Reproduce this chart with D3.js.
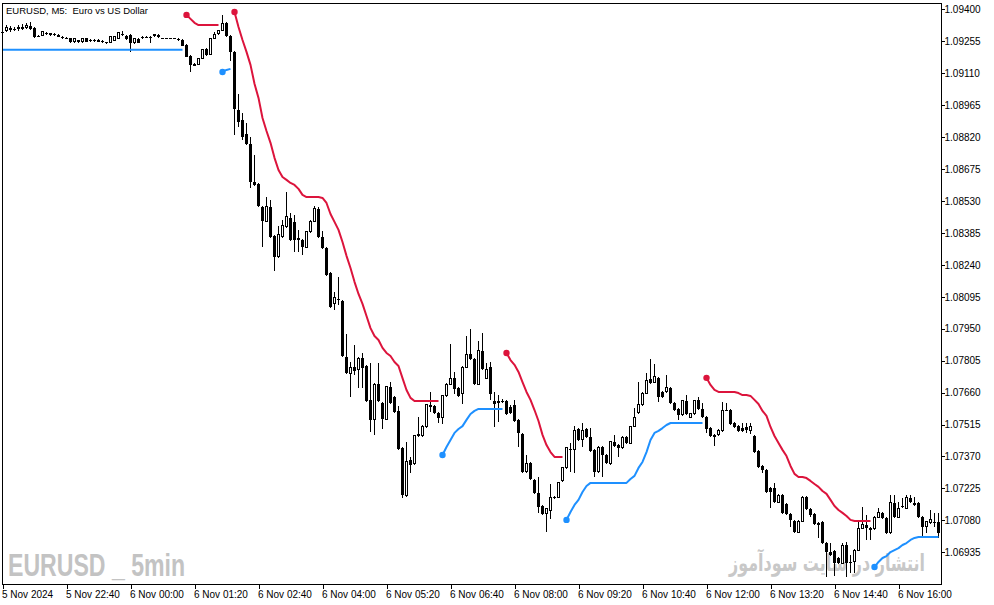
<!DOCTYPE html>
<html>
<head>
<meta charset="utf-8">
<script src="https://d3js.org/d3.v7.min.js"></script>
<style>
body{margin:0;background:#fff;}
svg text{font-family:"Liberation Sans",Arial,sans-serif;}
</style>
</head>
<body>
<script>
// EURUSD M5, 5 Nov 2024 21:20 -> 6 Nov 2024 16:50 (235 bars)
var openP=[
1.09298,1.09302,1.09316,1.09311,1.09311,1.09316,1.09316,1.09325,1.09316,1.09280,
1.09280,1.09293,1.09293,1.09289,1.09284,1.09275,1.09270,1.09270,1.09252,1.09261,
1.09252,1.09270,1.09261,1.09261,1.09261,1.09257,1.09252,1.09248,1.09261,1.09270,
1.09289,1.09280,1.09284,1.09248,1.09266,1.09275,1.09275,1.09275,1.09280,1.09284,
1.09270,1.09268,1.09268,1.09268,1.09266,1.09261,1.09239,1.09189,1.09148,1.09152,
1.09175,1.09220,1.09193,1.09266,1.09289,1.09302,1.09338,1.09280,1.09207,1.08944,
1.08898,1.08835,1.08789,1.08617,1.08608,1.08503,1.08439,1.08503,1.08371,1.08276,
1.08367,1.08412,1.08453,1.08435,1.08353,1.08353,1.08321,1.08390,1.08435,1.08494,
1.08367,1.08317,1.08203,1.08063,1.08085,1.08076,1.07822,1.07749,1.07776,1.07767,
1.07817,1.07781,1.07627,1.07536,1.07699,1.07613,1.07540,1.07686,1.07640,1.07577,
1.07409,1.07191,1.07354,1.07336,1.07463,1.07463,1.07504,1.07599,1.07599,1.07568,
1.07545,1.07645,1.07699,1.07726,1.07681,1.07654,1.07776,1.07835,1.07813,1.07699,
1.07849,1.07726,1.07776,1.07622,1.07622,1.07622,1.07622,1.07595,1.07604,1.07536,
1.07472,1.07300,1.07340,1.07263,1.07204,1.07145,1.07109,1.07123,1.07186,1.07186,
1.07259,1.07318,1.07404,1.07400,1.07495,1.07445,1.07495,1.07459,1.07400,1.07300,
1.07413,1.07377,1.07336,1.07436,1.07422,1.07409,1.07458,1.07431,1.07508,1.07568,
1.07604,1.07658,1.07722,1.07708,1.07726,1.07663,1.07663,1.07681,1.07613,1.07586,
1.07559,1.07622,1.07549,1.07563,1.07627,1.07586,1.07549,1.07499,1.07468,1.07468,
1.07486,1.07581,1.07581,1.07522,1.07508,1.07499,1.07504,1.07486,1.07463,1.07395,
1.07327,1.07309,1.07227,1.07227,1.07163,1.07195,1.07154,1.07109,1.07077,1.07027,
1.07077,1.07186,1.07132,1.07109,1.07068,1.07073,1.06977,1.06936,1.06941,1.06909,
1.06886,1.06968,1.06891,1.06891,1.06945,1.07045,1.07059,1.07045,1.07041,1.07095,
1.07114,1.07091,1.07023,1.07159,1.07095,1.07145,1.07136,1.07182,1.07159,1.07159,
1.07095,1.07050,1.07068,1.07073,1.07073];
var highP=[
1.09320,1.09329,1.09325,1.09320,1.09329,1.09334,1.09338,1.09343,1.09320,1.09284,
1.09302,1.09298,1.09295,1.09291,1.09286,1.09280,1.09275,1.09272,1.09266,1.09263,
1.09270,1.09272,1.09266,1.09266,1.09266,1.09261,1.09254,1.09275,1.09280,1.09298,
1.09302,1.09284,1.09289,1.09270,1.09270,1.09280,1.09280,1.09277,1.09286,1.09286,
1.09272,1.09272,1.09272,1.09272,1.09270,1.09266,1.09243,1.09193,1.09157,1.09180,
1.09222,1.09225,1.09268,1.09298,1.09307,1.09375,1.09343,1.09284,1.09211,1.09016,
1.08930,1.08884,1.08821,1.08739,1.08612,1.08508,1.08548,1.08535,1.08376,1.08417,
1.08444,1.08571,1.08476,1.08467,1.08399,1.08358,1.08394,1.08444,1.08508,1.08503,
1.08394,1.08321,1.08208,1.08117,1.08185,1.08081,1.07926,1.07799,1.07876,1.07822,
1.07840,1.07785,1.07794,1.07704,1.07794,1.07617,1.07690,1.07708,1.07645,1.07599,
1.07413,1.07436,1.07368,1.07468,1.07549,1.07513,1.07608,1.07663,1.07604,1.07572,
1.07649,1.07704,1.07881,1.07754,1.07686,1.07781,1.07917,1.07949,1.07817,1.07894,
1.07931,1.07794,1.07799,1.07663,1.07649,1.07631,1.07627,1.07604,1.07627,1.07540,
1.07477,1.07377,1.07345,1.07268,1.07277,1.07150,1.07136,1.07245,1.07191,1.07254,
1.07322,1.07413,1.07431,1.07508,1.07499,1.07522,1.07499,1.07499,1.07404,1.07418,
1.07418,1.07381,1.07440,1.07468,1.07427,1.07463,1.07463,1.07508,1.07590,1.07708,
1.07663,1.07749,1.07813,1.07790,1.07731,1.07667,1.07740,1.07686,1.07617,1.07590,
1.07627,1.07649,1.07568,1.07627,1.07640,1.07613,1.07554,1.07504,1.07472,1.07495,
1.07617,1.07613,1.07586,1.07527,1.07513,1.07522,1.07522,1.07522,1.07468,1.07400,
1.07331,1.07313,1.07232,1.07250,1.07200,1.07200,1.07159,1.07114,1.07082,1.07082,
1.07191,1.07191,1.07136,1.07114,1.07073,1.07077,1.06982,1.06977,1.06945,1.06914,
1.06977,1.06982,1.06923,1.06950,1.07082,1.07141,1.07104,1.07050,1.07100,1.07136,
1.07118,1.07095,1.07195,1.07195,1.07163,1.07182,1.07195,1.07195,1.07186,1.07163,
1.07100,1.07077,1.07127,1.07114,1.07114];
var lowP=[
1.09289,1.09298,1.09298,1.09302,1.09302,1.09307,1.09311,1.09307,1.09270,1.09275,
1.09277,1.09284,1.09280,1.09280,1.09273,1.09266,1.09266,1.09248,1.09248,1.09248,
1.09248,1.09250,1.09252,1.09252,1.09250,1.09248,1.09243,1.09246,1.09259,1.09268,
1.09280,1.09261,1.09207,1.09243,1.09246,1.09266,1.09270,1.09248,1.09275,1.09270,
1.09266,1.09266,1.09266,1.09264,1.09257,1.09232,1.09182,1.09116,1.09143,1.09150,
1.09173,1.09189,1.09191,1.09264,1.09284,1.09300,1.09275,1.09166,1.08830,1.08866,
1.08807,1.08785,1.08589,1.08598,1.08503,1.08321,1.08435,1.08362,1.08212,1.08272,
1.08362,1.08408,1.08349,1.08299,1.08299,1.08285,1.08317,1.08385,1.08433,1.08362,
1.08312,1.08190,1.08044,1.08035,1.08058,1.07822,1.07745,1.07640,1.07740,1.07681,
1.07681,1.07617,1.07481,1.07468,1.07617,1.07495,1.07536,1.07608,1.07568,1.07400,
1.07182,1.07186,1.07295,1.07331,1.07459,1.07459,1.07499,1.07572,1.07563,1.07522,
1.07518,1.07640,1.07695,1.07654,1.07640,1.07608,1.07772,1.07808,1.07695,1.07695,
1.07763,1.07722,1.07627,1.07504,1.07527,1.07613,1.07559,1.07563,1.07527,1.07413,
1.07295,1.07295,1.07263,1.07200,1.07114,1.07104,1.07027,1.07086,1.07177,1.07182,
1.07254,1.07313,1.07300,1.07295,1.07440,1.07413,1.07454,1.07391,1.07277,1.07295,
1.07277,1.07336,1.07331,1.07413,1.07368,1.07404,1.07427,1.07427,1.07504,1.07563,
1.07599,1.07654,1.07699,1.07704,1.07617,1.07636,1.07658,1.07608,1.07577,1.07536,
1.07554,1.07559,1.07545,1.07559,1.07581,1.07545,1.07477,1.07459,1.07418,1.07463,
1.07481,1.07577,1.07513,1.07499,1.07481,1.07481,1.07477,1.07472,1.07386,1.07318,
1.07295,1.07204,1.07136,1.07159,1.07159,1.07109,1.07104,1.07050,1.07023,1.07023,
1.07073,1.07127,1.07095,1.07059,1.07000,1.06973,1.06823,1.06918,1.06827,1.06882,
1.06882,1.06823,1.06841,1.06841,1.06941,1.07041,1.06991,1.06991,1.07036,1.07091,
1.07086,1.07018,1.07018,1.07091,1.07091,1.07136,1.07132,1.07159,1.07145,1.07091,
1.07004,1.07023,1.07064,1.07050,1.07000];
var closeP=[
1.09293,1.09320,1.09307,1.09307,1.09316,1.09320,1.09325,1.09311,1.09275,1.09277,
1.09298,1.09289,1.09284,1.09284,1.09275,1.09270,1.09268,1.09252,1.09266,1.09252,
1.09270,1.09252,1.09257,1.09257,1.09252,1.09252,1.09248,1.09275,1.09275,1.09293,
1.09284,1.09266,1.09248,1.09266,1.09248,1.09270,1.09273,1.09270,1.09284,1.09275,
1.09268,1.09268,1.09268,1.09266,1.09261,1.09234,1.09184,1.09148,1.09152,1.09175,
1.09220,1.09193,1.09266,1.09284,1.09302,1.09338,1.09280,1.09207,1.08948,1.08889,
1.08821,1.08789,1.08617,1.08603,1.08508,1.08439,1.08503,1.08367,1.08276,1.08376,
1.08421,1.08458,1.08353,1.08353,1.08358,1.08321,1.08390,1.08439,1.08498,1.08367,
1.08317,1.08195,1.08049,1.08094,1.08081,1.07826,1.07749,1.07776,1.07758,1.07817,
1.07772,1.07622,1.07536,1.07699,1.07622,1.07540,1.07686,1.07613,1.07572,1.07404,
1.07195,1.07345,1.07331,1.07463,1.07468,1.07504,1.07604,1.07601,1.07568,1.07545,
1.07645,1.07699,1.07726,1.07677,1.07645,1.07776,1.07835,1.07813,1.07699,1.07849,
1.07767,1.07763,1.07654,1.07608,1.07613,1.07620,1.07563,1.07568,1.07531,1.07477,
1.07300,1.07340,1.07268,1.07204,1.07141,1.07109,1.07132,1.07182,1.07182,1.07250,
1.07318,1.07409,1.07402,1.07490,1.07445,1.07490,1.07459,1.07395,1.07300,1.07413,
1.07377,1.07340,1.07436,1.07418,1.07409,1.07458,1.07431,1.07504,1.07549,1.07604,
1.07658,1.07717,1.07704,1.07735,1.07640,1.07640,1.07681,1.07613,1.07581,1.07559,
1.07622,1.07563,1.07563,1.07622,1.07586,1.07549,1.07495,1.07463,1.07458,1.07490,
1.07581,1.07579,1.07518,1.07504,1.07486,1.07486,1.07490,1.07504,1.07391,1.07322,
1.07309,1.07209,1.07209,1.07163,1.07195,1.07114,1.07109,1.07082,1.07027,1.07077,
1.07186,1.07132,1.07104,1.07064,1.07059,1.06977,1.06936,1.06923,1.06886,1.06886,
1.06968,1.06886,1.06886,1.06945,1.07045,1.07059,1.07045,1.07036,1.07095,1.07114,
1.07091,1.07023,1.07159,1.07095,1.07136,1.07143,1.07182,1.07163,1.07150,1.07095,
1.07050,1.07073,1.07082,1.07068,1.07023];

// trailing stop indicator: red = above price (down trend), blue = below price (up trend)
var redStarts=[46,58,126,176];
var redValues=[
[1.09375,1.09357,1.09339,1.09329,1.09329,1.09329,1.09329,1.09329,1.09329],
[1.09388,1.09320,1.09261,1.09207,1.09148,1.09062,1.08998,1.08907,1.08848,1.08794,
 1.08726,1.08671,1.08639,1.08626,1.08612,1.08603,1.08585,1.08558,1.08548,1.08548,
 1.08548,1.08548,1.08544,1.08521,1.08471,1.08435,1.08399,1.08344,1.08281,1.08226,
 1.08163,1.08108,1.08063,1.08008,1.07953,1.07917,1.07899,1.07863,1.07840,1.07826,
 1.07799,1.07781,1.07726,1.07672,1.07636,1.07622,1.07622,1.07622,1.07622,1.07622,1.07622,1.07622],
[1.07840,1.07808,1.07786,1.07754,1.07708,1.07663,1.07627,1.07581,1.07531,1.07468,
 1.07422,1.07390,1.07368,1.07368,1.07368],
[1.07727,1.07695,1.07672,1.07663,1.07663,1.07663,1.07663,1.07663,1.07658,1.07649,
 1.07649,1.07645,1.07627,1.07608,1.07577,1.07554,1.07504,1.07463,1.07431,1.07400,
 1.07372,1.07327,1.07291,1.07277,1.07277,1.07272,1.07259,1.07245,1.07232,1.07213,
 1.07200,1.07173,1.07145,1.07127,1.07114,1.07100,1.07082,1.07077,1.07077,1.07077,1.07077,1.07077]];
var redDots=[true,true,true,true];

var blueStarts=[0,55,110,141,218];
var blueValues=[
[1.09217,1.09217,1.09217,1.09217,1.09217,1.09217,1.09217,1.09217,1.09217,1.09217,
 1.09217,1.09217,1.09217,1.09217,1.09217,1.09217,1.09217,1.09217,1.09217,1.09217,
 1.09217,1.09217,1.09217,1.09217,1.09217,1.09217,1.09217,1.09217,1.09217,1.09217,
 1.09217,1.09217,1.09217,1.09217,1.09217,1.09217,1.09217,1.09217,1.09217,1.09217,
 1.09217,1.09217,1.09217,1.09217,1.09217,1.09217],
[1.09116,1.09125,1.09130],
[1.07377,1.07413,1.07445,1.07477,1.07495,1.07508,1.07536,1.07563,1.07577,1.07586,
 1.07586,1.07586,1.07586,1.07586,1.07586,1.07586],
[1.07082,1.07118,1.07150,1.07173,1.07209,1.07236,1.07250,1.07250,1.07250,1.07250,
 1.07250,1.07250,1.07250,1.07250,1.07250,1.07250,1.07268,1.07282,1.07318,1.07345,
 1.07390,1.07445,1.07477,1.07486,1.07499,1.07513,1.07522,1.07522,1.07522,1.07522,
 1.07522,1.07522,1.07522,1.07522,1.07522],
[1.06868,1.06891,1.06909,1.06918,1.06936,1.06945,1.06954,1.06968,1.06977,1.06991,
 1.07000,1.07004,1.07004,1.07004,1.07004,1.07004,1.07004]];
var blueDots=[false,true,true,true,true];

// axis labels
var timeTickIdx=[0,16,32,48,64,80,96,112,128,144,160,176,192,208,224];
var timeTickLabels=["5 Nov 2024","5 Nov 22:40","6 Nov 00:00","6 Nov 01:20","6 Nov 02:40","6 Nov 04:00",
"6 Nov 05:20","6 Nov 06:40","6 Nov 08:00","6 Nov 09:20","6 Nov 10:40","6 Nov 12:00","6 Nov 13:20",
"6 Nov 14:40","6 Nov 16:00"];
var priceTicks=[1.09400,1.09255,1.09110,1.08965,1.08820,1.08675,1.08530,1.08385,1.08240,1.08095,
1.07950,1.07805,1.07660,1.07515,1.07370,1.07225,1.07080,1.06935];
var priceMin=1.06791, priceMax=1.09429;

var w=994, h=605;
var L=2, R=941, T=3, B=584;

var bars=openP.map(function(o,i){return {i:i,o:o,h:highP[i],l:lowP[i],c:closeP[i]};});

var xScale=d3.scaleLinear().domain([0,openP.length-1]).range([2.5,2.5+4*(openP.length-1)]);
var yScale=d3.scaleLinear().domain([priceMin,priceMax]).range([B,T]);

var svg=d3.select("body").append("svg").attr("width",w).attr("height",h);

// watermarks (under the candles)
svg.append("text").attr("x",8).attr("y",576)
	.attr("font-size","32px").attr("font-weight","bold").attr("fill","#c3c3c3")
	.style("font-family","'Liberation Sans Narrow','Liberation Sans',sans-serif")
	.attr("textLength",177).attr("lengthAdjust","spacingAndGlyphs")
	.text("EURUSD _ 5min");

// persian watermark: size it so its natural width fits 727..925, then stretch it up
var fa=svg.append("text").attr("x",925).attr("y",571).attr("text-anchor","end")
	.style("font-family","'DejaVu Sans',sans-serif").attr("font-weight","bold")
	.attr("font-size","22px").attr("fill","#c8c8c8")
	.attr("transform","translate(0,571) scale(1,1.45) translate(0,-571)")
	.text("انتشار در سایت سودآموز");
var faLen=fa.node().getComputedTextLength();
if(faLen>0){ fa.attr("font-size",(22*196/faLen).toFixed(2)+"px"); }

// title
svg.append("text").attr("x",6).attr("y",13.5).attr("font-size","9.5px").attr("fill","#000")
	.style("white-space","pre").text("EURUSD, M5:  Euro vs US Dollar");

// candles
var cg=svg.append("g").attr("shape-rendering","crispEdges");
cg.selectAll("line.wick").data(bars).join("line").attr("class","wick")
	.attr("x1",function(d){return xScale(d.i);}).attr("x2",function(d){return xScale(d.i);})
	.attr("y1",function(d){return yScale(d.h);}).attr("y2",function(d){return yScale(d.l);})
	.attr("stroke","#000").attr("stroke-width",1);
cg.selectAll("rect.down").data(bars.filter(function(d){return d.c<=d.o;})).join("rect").attr("class","down")
	.attr("x",function(d){return xScale(d.i)-1.5;}).attr("width",3)
	.attr("y",function(d){return yScale(d.o);})
	.attr("height",function(d){return Math.max(1,yScale(d.c)-yScale(d.o));})
	.attr("fill","#000");
cg.selectAll("rect.up").data(bars.filter(function(d){return d.c>d.o;})).join("rect").attr("class","up")
	.attr("x",function(d){return xScale(d.i)-1;}).attr("width",2)
	.attr("y",function(d){return yScale(d.c);})
	.attr("height",function(d){return Math.max(1,yScale(d.o)-yScale(d.c));})
	.attr("fill","#fff").attr("stroke","#000").attr("stroke-width",1);

// indicator lines
function drawSegments(starts,values,dots,color){
	var g=svg.append("g");
	starts.forEach(function(s,n){
		var line=d3.line().x(function(v,j){return xScale(s+j);}).y(function(v){return yScale(v);});
		g.append("path").attr("d",line(values[n])).attr("fill","none")
			.attr("stroke",color).attr("stroke-width",2).attr("stroke-linejoin","round");
		if(dots[n]){
			g.append("circle").attr("cx",xScale(s)).attr("cy",yScale(values[n][0])).attr("r",3.2).attr("fill",color);
		}
	});
}
drawSegments(blueStarts,blueValues,blueDots,"#1e90ff");
drawSegments(redStarts,redValues,redDots,"#dc143c");

// frame
svg.append("rect").attr("x",L+0.5).attr("y",T+0.5).attr("width",R-L).attr("height",B-T)
	.attr("fill","none").attr("stroke","#000").attr("shape-rendering","crispEdges");

// axes
var xAxis=d3.axisBottom(xScale).tickValues(timeTickIdx)
	.tickFormat(function(d,i){return timeTickLabels[i];}).tickSize(4).tickSizeOuter(0);
var gx=svg.append("g").attr("transform","translate(0,"+(B+0.5)+")").call(xAxis);
gx.select(".domain").remove();
gx.selectAll("line").attr("shape-rendering","crispEdges");
gx.selectAll("text").attr("text-anchor","start").attr("x",-1).attr("y",6)
	.attr("font-size","10px").attr("fill","#000").style("font-family","'Liberation Sans',Arial,sans-serif");

var yAxis=d3.axisRight(yScale).tickValues(priceTicks).tickFormat(d3.format(".5f")).tickSize(3).tickSizeOuter(0);
var gy=svg.append("g").attr("transform","translate("+(R+0.5)+",0)").call(yAxis);
gy.select(".domain").remove();
gy.selectAll("line").attr("shape-rendering","crispEdges");
gy.selectAll("text").attr("x",3).attr("font-size","10px").attr("fill","#000")
	.style("font-family","'Liberation Sans',Arial,sans-serif");
</script>
</body>
</html>
